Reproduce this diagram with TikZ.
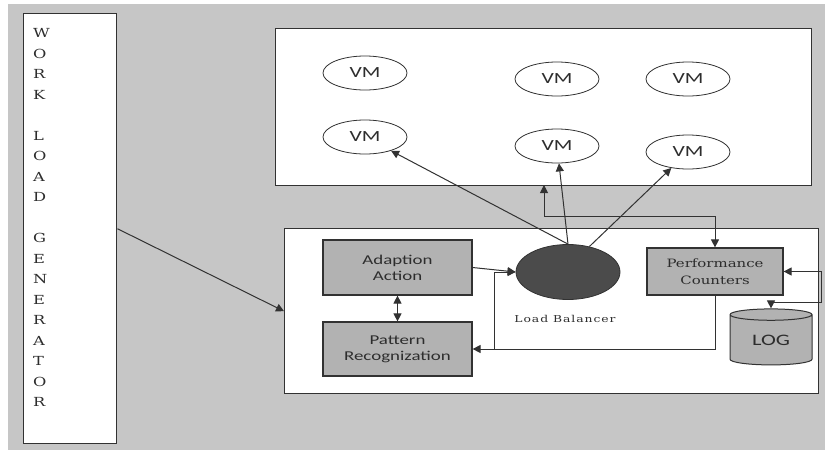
\documentclass[tikz,border=0pt]{standalone}
\usepackage{fontspec}
\usepackage{tikz}
\usetikzlibrary{arrows.meta,shapes.geometric}
\setmainfont{DejaVu Serif}
\newfontfamily\wideserif[FakeStretch=1.3]{DejaVu Serif}
\newfontfamily\widesans[FakeStretch=1.4]{Carlito}
\definecolor{wlbg}{RGB}{198,198,198}
\definecolor{wlbox}{RGB}{178,178,178}
\definecolor{wlline}{RGB}{50,50,50}
\definecolor{wldark}{RGB}{75,75,75}
\definecolor{wltext}{RGB}{45,45,45}

\begin{document}
\begin{tikzpicture}[x=1pt, y=-1pt,
    frame/.style={draw=wlline, line width=1.4pt, fill=white, inner sep=0pt},
    block/.style={draw=wlline, line width=1.2pt, fill=wlbox, text=wltext, align=center, inner sep=0pt},
    vm/.style={ellipse, draw=wlline, line width=0.8pt, fill=white, text=wltext, minimum width=84pt, minimum height=34pt, inner sep=0pt, font=\widesans\fontsize{15.5}{16}\selectfont},
    tip/.tip={Triangle[length=8pt, width=8pt]},
    link/.style={draw=wlline, line width=1pt, -tip},
    both/.style={link, tip-tip}]

    % Canvas
    \useasboundingbox (0,0) rectangle (825,450);
    \fill[white] (0,0) rectangle (825,450);
    \fill[wlbg] (8,4) rectangle (825,450);

    % Work load generator
    \node[frame, anchor=north west, minimum width=93pt, minimum height=430pt] (wlg) at (23,13) {};
    \foreach \ch [count=\i] in {W,O,R,K,{},L,O,A,D,{},G,E,N,E,R,A,T,O,R}
        \node[anchor=west, inner sep=0pt, text=wltext, font=\wideserif\fontsize{12.5}{13}\selectfont] (wl\i) at (33,{33+20.5*(\i-1)}) {\ch};

    % VM pool
    \node[frame, anchor=north west, minimum width=536pt, minimum height=157pt] (vmbox) at (275,28) {};
    \node[vm] (vmtl) at (365,73) {VM};
    \node[vm] (vmbl) at (365,137) {VM};
    \node[vm] (vmtm) at (557,79) {VM};
    \node[vm] (vmbm) at (557,146) {VM};
    \node[vm] (vmtr) at (688,79) {VM};
    \node[vm] (vmbr) at (688,152) {VM};

    % Controller
    \node[frame, anchor=north west, minimum width=534pt, minimum height=165pt] (ctrl) at (284,228) {};
    \node[block, minimum width=149pt, minimum height=55pt, font=\widesans\fontsize{13.5}{16}\selectfont] (adapt) at (397.5,267.5) {Adaption\\Action};
    \node[block, minimum width=149pt, minimum height=54pt, font=\widesans\fontsize{13.5}{16}\selectfont] (pattern) at (397.5,349) {Pattern\\Recognization};
    \node[block, minimum width=136pt, minimum height=47pt, font=\wideserif\fontsize{11.5}{16.5}\selectfont] (pc) at (715,271.5) {Performance\\Counters};
    \node[ellipse, draw=wlline, line width=0.8pt, fill=wldark, minimum width=104pt, minimum height=55pt] (lb) at (568,272) {};
    \node[text=wltext, font=\wideserif\fontsize{9.5}{10}\selectfont\addfontfeatures{LetterSpace=10}] (lblabel) at (565,319) {Load Balancer};
    \node[cylinder, shape border rotate=90, aspect=0.3, draw=wlline, line width=1pt, fill=wlbox, text=wltext, minimum width=82pt, minimum height=56pt, inner sep=0pt, font=\widesans\fontsize{16}{18}\selectfont] (log) at (771,340) {LOG};

    % Connectors
    \draw[link] (wlg.east) -- (ctrl.west);
    \draw[link] (adapt.east) -- (lb.west);
    \draw[both] (adapt.south) -- (pattern.north);
    \draw[link] (pc.south) |- (pattern.east);
    \coordinate (fbjoin) at (494,349);
    \draw[link] (fbjoin) |- (lb.west);
    \draw[link] (lb.north) -- (vmbl);
    \draw[link] (lb.north) -- (vmbm);
    \draw[link] (lb.50) -- (vmbr);
    \coordinate (vmport) at (544,185);
    \coordinate (pcbend) at (544,216);
    \draw[both] (vmport) -- (pcbend) -| (pc.north);
    \coordinate (logbend1) at (821,271.5);
    \coordinate (logbend2) at (821,302);
    \draw[both] (pc.east) -- (logbend1) -- (logbend2) -| (log.north);
\end{tikzpicture}
\end{document}
